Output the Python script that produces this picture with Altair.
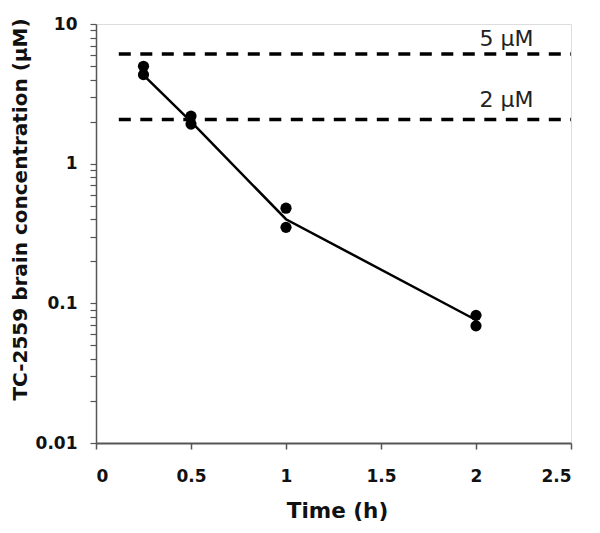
import altair as alt
import pandas as pd

# measured points
time_pts = [0.25, 0.25, 0.5, 0.5, 1.0, 1.0, 2.0, 2.0]
conc_pts = [4.98, 4.34, 2.19, 1.92, 0.48, 0.35, 0.082, 0.069]

# connecting line
time_line = [0.25, 0.5, 1.0, 2.0]
conc_line = [4.3, 2.0, 0.40, 0.076]

# threshold lines
thr_values = [6.1, 2.07]
thr_start = [0.12, 0.12]
thr_end = [2.5, 2.5]
thr_labels = ["5 \u00b5M", "2 \u00b5M"]
thr_label_x = [2.16, 2.16]
thr_label_y = [6.97, 2.53]

x_ticks = [0, 0.5, 1, 1.5, 2, 2.5]
y_major = [0.01, 0.1, 1, 10]
y_ticks = [0.01, 0.02, 0.03, 0.04, 0.05, 0.06, 0.07, 0.08, 0.09,
           0.1, 0.2, 0.3, 0.4, 0.5, 0.6, 0.7, 0.8, 0.9,
           1, 2, 3, 4, 5, 6, 7, 8, 9, 10]

pts = pd.DataFrame({"t": time_pts, "c": conc_pts})
line = pd.DataFrame({"t": time_line, "c": conc_line})
thr = pd.DataFrame({"v": thr_values, "x0": thr_start, "x1": thr_end})
lab = pd.DataFrame({"text": thr_labels, "x": thr_label_x, "y": thr_label_y})

FONT = "DejaVu Sans"

xscale = alt.Scale(domain=[0, 2.5], nice=False, zero=False)
yscale = alt.Scale(type="log", domain=[0.01, 10], nice=False)

x_axis = alt.Axis(
    values=x_ticks, labelExpr="'' + datum.value", grid=False,
    title="Time (h)", titleFont=FONT, titleFontSize=21.5, titleFontWeight="bold",
    titleColor="#111", titleX=241, titleY=68, titleBaseline="middle", titleAnchor="middle",
    labelFont=FONT, labelFontSize=17, labelFontWeight="bold", labelColor="#111",
    labelPadding=19, tickSize=6, tickColor="#555", tickWidth=1.5,
    domainColor="#555", domainWidth=2,
)
y_axis = alt.Axis(
    values=y_ticks,
    labelExpr="indexof([0.01, 0.1, 1, 10], datum.value) >= 0 ? '' + datum.value : ''",
    grid=False,
    title="TC-2559 brain concentration (\u00b5M)", titleFont=FONT, titleFontSize=20,
    titleFontWeight="bold", titleColor="#111", titleX=-76, titleY=185,
    titleAngle=270, titleAlign="center", titleBaseline="middle",
    labelFont=FONT, labelFontSize=17, labelFontWeight="bold", labelColor="#111",
    labelPadding=13, tickSize=6, tickColor="#555", tickWidth=1.2,
    domainColor="#555", domainWidth=1.5, labelOverlap=False,
)

base_line = alt.Chart(line).mark_line(color="#000", strokeWidth=2.5).encode(
    x=alt.X("t:Q", scale=xscale, axis=x_axis),
    y=alt.Y("c:Q", scale=yscale, axis=y_axis),
)

points = alt.Chart(pts).mark_point(filled=True, color="#000", size=125, opacity=1).encode(
    x=alt.X("t:Q", scale=xscale),
    y=alt.Y("c:Q", scale=yscale),
)

rules = alt.Chart(thr).mark_rule(color="#000", strokeWidth=3.5, strokeDash=[12, 9.5]).encode(
    x=alt.X("x0:Q", scale=xscale),
    x2="x1:Q",
    y=alt.Y("v:Q", scale=yscale),
)

texts = alt.Chart(lab).mark_text(
    font=FONT, fontSize=22, color="#222", align="center", baseline="alphabetic"
).encode(
    x=alt.X("x:Q", scale=xscale),
    y=alt.Y("y:Q", scale=yscale),
    text="text:N",
)

chart = alt.layer(rules, texts, base_line, points).properties(
    width=475, height=419,
    autosize=alt.AutoSizeParams(type="none"),
    padding={"left": 88, "top": 16, "right": 21, "bottom": 82},
).configure_view(stroke=None).configure(background="white")

chart.save("out.html", embed_options={"renderer": "svg", "actions": False})
